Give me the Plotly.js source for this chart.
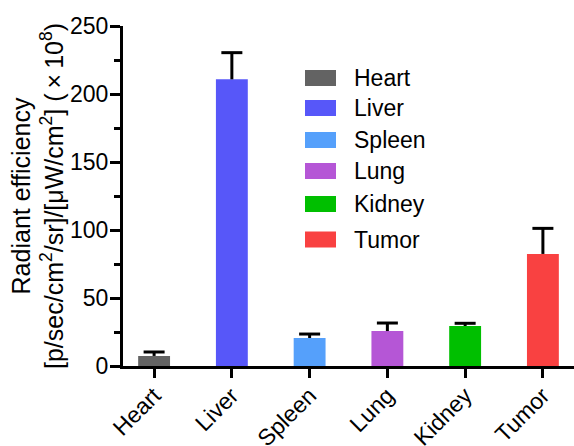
<!DOCTYPE html>
<html><head><meta charset="utf-8">
<script src="https://cdn.plot.ly/plotly-3.0.1.min.js"></script>
<style>html,body{margin:0;padding:0;background:#fff}</style>
</head><body><div id="chart" style="width:574px;height:446px"></div>
<script>
const categories = ['Heart', 'Liver', 'Spleen', 'Lung', 'Kidney', 'Tumor'];
const values = [7.4, 210.8, 20.6, 25.7, 29.4, 82.4];
const errors = [2.9, 19.6, 2.9, 5.9, 2.0, 18.8];
const colors = ['#636363', '#5757F9', '#55A0FB', '#B556D6', '#00BF00', '#F94141'];
const yTicks = [0, 50, 100, 150, 200, 250];

const FONT = 'Liberation Sans, Arial, sans-serif';
const W = 574, H = 446, L = 123, R = 0, T = 26, B = 80;
const px2x = p => (p - L) / (W - L - R);
const px2y = p => (H - B - p) / (H - T - B);

const bars = {
  type: 'bar',
  x: categories,
  y: values,
  marker: { color: colors, line: { width: 0 } },
  error_y: { type: 'data', array: errors, arrayminus: categories.map(() => 0), symmetric: false,
             color: '#000', thickness: 3, width: 0 },
  hoverinfo: 'x+y',
  showlegend: false
};

// caps of the (upper-only) error bars
const caps = {
  type: 'scatter', mode: 'markers',
  x: categories,
  y: values.map((v, i) => v + errors[i]),
  marker: { symbol: 'line-ew', size: 15, color: '#000', line: { color: '#000', width: 3 } },
  hoverinfo: 'skip',
  showlegend: false,
  cliponaxis: false
};

const shapes = [], annotations = [];
const rowCenters = [78, 108, 140, 171, 204, 239.5];
categories.forEach((c, i) => {
  const cy = rowCenters[i];
  shapes.push({ type: 'rect', xref: 'paper', yref: 'paper',
    x0: px2x(305), x1: px2x(336), y0: px2y(cy - 8), y1: px2y(cy + 8),
    fillcolor: colors[i], line: { width: 0 } });
  annotations.push({ xref: 'paper', yref: 'paper', x: px2x(352), y: px2y(cy),
    xanchor: 'left', yanchor: 'middle', text: c, showarrow: false,
    font: { family: FONT, size: 23, color: '#000' } });
});

const layout = {
  width: W, height: H,
  margin: { l: L, r: R, t: T, b: B, pad: 0 },
  paper_bgcolor: '#fff', plot_bgcolor: '#fff',
  font: { family: FONT, color: '#000' },
  bargap: 0.59,
  showlegend: false,
  xaxis: {
    type: 'category', range: [-0.4, 5.4],
    showline: true, linewidth: 3, linecolor: '#000',
    ticks: 'outside', ticklen: 9, tickwidth: 3, tickcolor: '#000',
    ticklabelstandoff: -5,
    tickangle: -45, tickfont: { family: FONT, size: 23, color: '#000' },
    showgrid: false, zeroline: false, fixedrange: true
  },
  yaxis: {
    range: [0, 250], tickvals: yTicks, ticktext: yTicks.map(String),
    showline: true, linewidth: 3, linecolor: '#000',
    ticks: 'outside', ticklen: 10, tickwidth: 3, tickcolor: '#000',
    ticklabelstandoff: -3,
    minor: { dtick: 25, tick0: 0, ticks: 'outside', ticklen: 6, tickwidth: 3, tickcolor: '#000', showgrid: false },
    tickfont: { family: FONT, size: 23, color: '#000' },
    showgrid: false, zeroline: false, fixedrange: true,
    title: { text: 'Radiant efficiency<br>[p/sec/cm<sup>2</sup>/sr]/[μW/cm<sup>2</sup>] (\u2009×\u200910<sup>8</sup>)',
             font: { family: FONT, size: 25, color: '#000' }, standoff: 0 }
  },
  shapes: shapes,
  annotations: annotations
};

Plotly.newPlot('chart', [bars, caps], layout, { displayModeBar: false, staticPlot: true });
</script>
</body></html>
